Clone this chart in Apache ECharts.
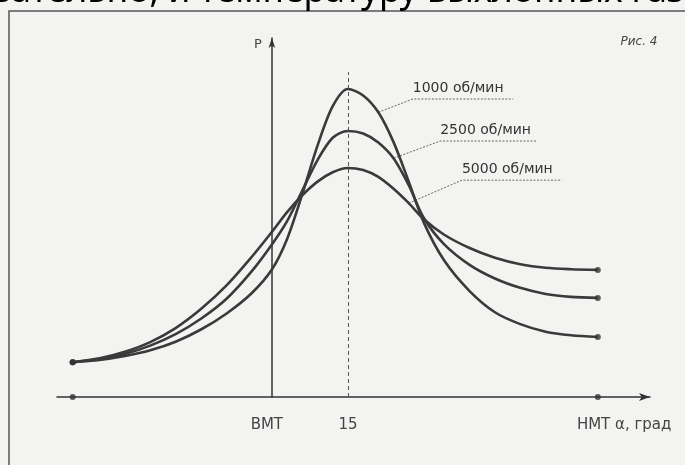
<!DOCTYPE html>
<html>
<head>
<meta charset="utf-8">
<script src="https://cdn.jsdelivr.net/npm/echarts@6/dist/echarts.min.js"></script>
<style>
html,body{margin:0;padding:0;background:#f3f3f1;}
#c{width:685px;height:465px;}
</style>
</head>
<body>
<div id="c"></div>
<script>
// crank angle (degrees, 0 = ВМТ)
const angles  = [-39.3, -34, -29, -24, -19, -14, -9, -4, 0, 3, 6, 9, 12, 15, 18, 21, 24, 27, 30, 34, 39, 44, 49, 54, 59, 64.3];
// cylinder pressure P (relative units)
const rpm1000 = [9.7, 10.3, 11.4, 13.0, 15.4, 18.8, 23.2, 28.9, 35.5, 44.0, 56.5, 70.0, 81.0, 85.8, 84.0, 79.3, 71.0, 60.0, 48.5, 38.0, 29.5, 23.6, 20.3, 18.2, 17.2, 16.7];
const rpm2500 = [9.7, 10.6, 12.0, 14.3, 17.5, 21.8, 27.3, 35.0, 42.5, 49.0, 57.5, 66.0, 72.2, 74.1, 73.4, 70.9, 66.5, 59.0, 49.8, 42.5, 36.8, 33.0, 30.4, 28.7, 27.9, 27.6];
const rpm5000 = [9.7, 10.8, 12.6, 15.3, 19.2, 24.5, 31.0, 39.0, 46.0, 51.5, 56.2, 60.0, 62.6, 63.8, 63.2, 61.3, 58.0, 54.0, 49.5, 45.2, 41.5, 38.8, 37.0, 36.0, 35.6, 35.4];
const seriesNames = ['1000 об/мин', '2500 об/мин', '5000 об/мин'];
const xTickValues = [-1, 15, 69.5];
const xTickLabels = ['ВМТ', '15', 'НМТ α, град'];
const peakAngle = 15;
const yAxisName = 'P';
const figureCaption = 'Рис. 4';
const pageText = 'зательно, и температуру выхлопных газ';

const FONT = '"DejaVu Sans", sans-serif';
const INK = '#3a3a3a';
const allSeries = [rpm1000, rpm2500, rpm5000];
const pairs = arr => angles.map((a, i) => [a, arr[i]]);
const lastIdx = angles.length - 1;

const endPoints = [];
allSeries.forEach(s => { endPoints.push([angles[0], s[0]]); endPoints.push([angles[lastIdx], s[lastIdx]]); });
const axisDots = [[angles[0], 0], [angles[lastIdx], 0]];

const chart = echarts.init(document.getElementById('c'), null, {renderer: 'canvas'});

const option = {
  backgroundColor: '#f3f3f1',
  animation: false,
  grid: {left: 57, right: 35, top: 38, bottom: 68},
  xAxis: {
    type: 'value', min: -42.4, max: 74.6,
    axisLine: {onZero: true, symbol: ['none', 'arrow'], symbolSize: [6, 11], lineStyle: {color: '#333', width: 1.5}},
    axisTick: {show: false},
    splitLine: {show: false},
    axisLabel: {
      customValues: xTickValues,
      formatter: v => { const i = xTickValues.indexOf(v); return i >= 0 ? xTickLabels[i] : ''; },
      margin: 21, fontSize: 15, color: '#444', fontFamily: FONT
    }
  },
  yAxis: {
    type: 'value', min: 0, max: 100,
    axisLine: {show: true, onZero: true, symbol: ['none', 'arrow'], symbolSize: [5, 10], lineStyle: {color: '#333', width: 1.5}},
    axisTick: {show: false},
    axisLabel: {show: false},
    splitLine: {show: false}
  },
  series: [
    ...allSeries.map((s, k) => ({
      name: seriesNames[k], type: 'line', data: pairs(s), smooth: 0.3,
      symbol: 'none', lineStyle: {color: INK, width: 2.6}, z: 3,
      markLine: k === 0 ? {
        silent: true, symbol: 'none', label: {show: false},
        lineStyle: {color: '#555', width: 1, type: [4, 3]},
        data: [[{coord: [peakAngle, 0]}, {coord: [peakAngle, 90.5]}]]
      } : undefined
    })),
    {type: 'scatter', data: endPoints, symbolSize: 6, itemStyle: {color: '#333'}, z: 4},
    {type: 'scatter', data: axisDots, symbolSize: 6, itemStyle: {color: '#333'}, z: 4}
  ]
};
chart.setOption(option);

// annotations placed through the chart's own coordinate system
const px = p => chart.convertToPixel({gridIndex: 0}, p);
const leaders = [
  {text: seriesNames[0], series: rpm1000, idx: 15, elbow: [27.8, 83.0], end: [47.6, 83.0]},
  {text: seriesNames[1], series: rpm2500, idx: 16, elbow: [33.2, 71.3], end: [52.3, 71.3]},
  {text: seriesNames[2], series: rpm5000, idx: 17, elbow: [37.5, 60.4], end: [57.2, 60.4]}
];
const g = [];
g.push({type: 'polyline', silent: true, shape: {points: [[9, 470], [9, 11], [690, 11]]}, style: {stroke: '#555', lineWidth: 1.5, fill: null}});
g.push({type: 'text', silent: true, style: {text: pageText, x: -6, y: -8.5, font: '35.5px "Noto Sans", sans-serif', fill: '#000', verticalAlign: 'middle'}});
g.push({type: 'text', silent: true, style: {text: figureCaption, x: 639, y: 42, font: 'italic 12px ' + FONT, fill: '#444', align: 'center', verticalAlign: 'middle'}});
const axisTop = px([0, 100]);
g.push({type: 'text', silent: true, style: {text: yAxisName, x: axisTop[0] - 14, y: axisTop[1] + 7, font: '13px ' + FONT, fill: '#444', align: 'center', verticalAlign: 'middle'}});
leaders.forEach(L => {
  const a = px([angles[L.idx], L.series[L.idx]]), e = px(L.elbow), n = px(L.end);
  g.push({type: 'polyline', silent: true, shape: {points: [a, e, n]}, style: {stroke: '#666', lineWidth: 1, lineDash: [2, 1.5], fill: null}});
  g.push({type: 'text', silent: true, style: {text: L.text, x: e[0], y: e[1] - 11, font: '14px ' + FONT, fill: '#333', align: 'left', verticalAlign: 'middle'}});
});
chart.setOption({graphic: g});
</script>
</body>
</html>
